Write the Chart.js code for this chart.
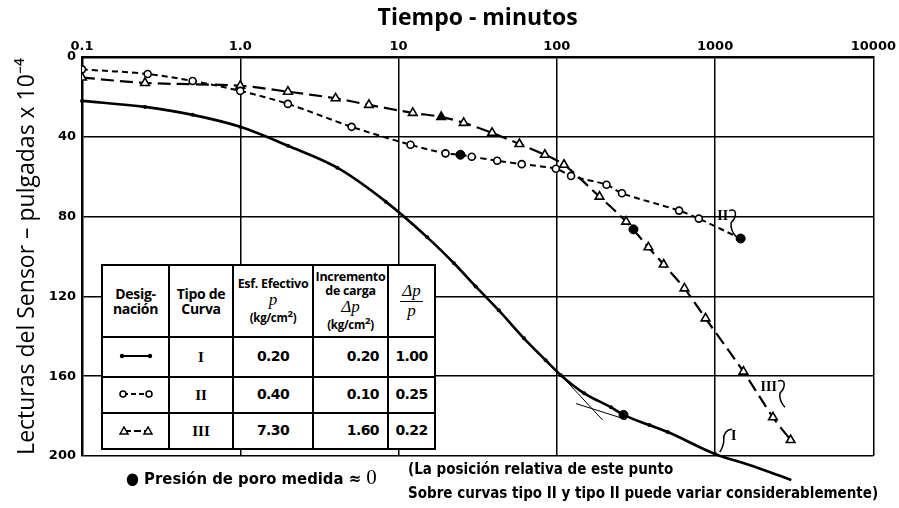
<!DOCTYPE html>
<html lang="es">
<head>
<meta charset="utf-8">
<title>Lecturas del sensor vs tiempo</title>
<script src="https://cdn.jsdelivr.net/npm/chart.js@4.4.0/dist/chart.umd.min.js"></script>
<style>
    body { margin: 0; background: #fff; }
    #wrap { position: relative; width: 899px; height: 508px; overflow: hidden; }
    #grafico { position: absolute; left: 0; top: 0; }
    #tabla {
        position: absolute; left: 101px; top: 264px; width: 333px; height: 185px;
        border-collapse: collapse; background: #fff; table-layout: fixed;
        font-family: "Open Sans", sans-serif; color: #000;
    }
    #tabla td { border: 2px solid #000; text-align: center; padding: 0; line-height: 1.1; }
    #tabla .cab td { font-weight: bold; font-size: 14px; height: 70px; letter-spacing: -0.3px; }
    #tabla .cab td.chico { font-size: 12.5px; }
    #tabla .cab small { font-size: 11.5px; }
    #tabla .mat { font-family: "Liberation Serif", serif; font-style: italic; font-weight: normal; font-size: 17px; letter-spacing: 0; }
    #tabla .fila td { font-family: "DejaVu Sans", sans-serif; font-weight: bold; font-size: 14px; letter-spacing: -0.6px; }
    #tabla .fila td.rom { font-family: "Liberation Serif", serif; font-size: 15px; letter-spacing: 0; }
    #tabla .frac { display: inline-block; }
    #tabla .frac span { display: block; }
    #tabla .frac .num { border-bottom: 1.5px solid #000; padding: 0 2px; }
    .nota { position: absolute; font-family: "Liberation Sans Narrow", "DejaVu Sans Condensed", sans-serif; font-stretch: condensed; font-weight: bold; font-size: 15px; color: #000; white-space: nowrap; }
    .cero { font-family: "Liberation Serif", serif; font-weight: normal; font-size: 21px; }
</style>
</head>
<body>
<div id="wrap">
    <canvas id="grafico" width="899" height="508"></canvas>
    <table id="tabla">
        <colgroup><col style="width:67px"><col style="width:64px"><col style="width:80px"><col style="width:75px"><col style="width:47px"></colgroup>
        <tr class="cab">
            <td>Desig-<br>nación</td>
            <td>Tipo de<br>Curva</td>
            <td class="chico">Esf. Efectivo<br><span class="mat">p</span><br><small>(kg/cm<sup>2</sup>)</small></td>
            <td class="chico">Incremento<br>de carga<br><span class="mat">Δp</span><br><small>(kg/cm<sup>2</sup>)</small></td>
            <td><span class="frac mat"><span class="num">Δp</span><span>p</span></span></td>
        </tr>
        <tr class="fila" style="height:40px">
            <td><svg width="34" height="10"><line x1="3" y1="5" x2="31" y2="5" stroke="#000" stroke-width="2"/><circle cx="3" cy="5" r="2.2"/><circle cx="31" cy="5" r="2.2"/></svg></td>
            <td class="rom">I</td><td>0.20</td><td style="text-align:right;padding-right:8px">0.20</td><td>1.00</td>
        </tr>
        <tr class="fila" style="height:36px">
            <td><svg width="34" height="10"><line x1="4" y1="5" x2="30" y2="5" stroke="#000" stroke-width="2" stroke-dasharray="5 3"/><circle cx="4" cy="5" r="3" fill="#fff" stroke="#000" stroke-width="1.6"/><circle cx="30" cy="5" r="3" fill="#fff" stroke="#000" stroke-width="1.6"/></svg></td>
            <td class="rom">II</td><td>0.40</td><td style="text-align:right;padding-right:8px">0.10</td><td>0.25</td>
        </tr>
        <tr class="fila" style="height:36px">
            <td><svg width="34" height="10"><line x1="5" y1="6" x2="29" y2="6" stroke="#000" stroke-width="2" stroke-dasharray="7 3"/><polygon points="1,9 5,2 9,9" fill="#fff" stroke="#000" stroke-width="1.5"/><polygon points="25,9 29,2 33,9" fill="#fff" stroke="#000" stroke-width="1.5"/></svg></td>
            <td class="rom">III</td><td>7.30</td><td style="text-align:right;padding-right:8px">1.60</td><td>0.22</td>
        </tr>
    </table>
    <div class="nota" style="left:126px;top:465px;font-size:16.5px">● Presión de poro medida ≈ <span class="cero">0</span></div>
    <div class="nota" style="left:408px;top:460px">(La posición relativa de este punto</div>
    <div class="nota" style="left:408px;top:484px">Sobre curvas tipo II y tipo II puede variar considerablemente)</div>
</div>
<script>
// Ejes
const tiempoTicks = [0.1, 1, 10, 100, 1000, 10000];
const tiempoLabels = ['0.1', '1.0', '10', '100', '1000', '10000'];
const lecturaTicks = [0, 40, 80, 120, 160, 200];

// Curva I (línea continua)
const curvaI_x = [0.1, 0.25, 0.5, 1.0, 2.0, 4.1, 8.3, 15.2, 22.4, 30.7, 43, 62, 85, 106, 149, 220, 264, 384, 502, 1000, 1610, 3030];
const curvaI_y = [22, 25, 29, 35, 44.5, 55.5, 72.5, 90.4, 103.4, 115, 127, 141, 152, 159.5, 168.6, 175.6, 179.4, 184.5, 188, 199, 204.3, 212];

// Curva II (círculos)
const curvaII_x = [0.1, 0.26, 0.5, 1.0, 2.0, 5.05, 11.9, 19.8, 24.6, 29, 42, 60, 98.6, 123, 206, 258, 592, 789, 1450];
const curvaII_y = [6.2, 8.5, 12, 17, 23.5, 35, 44, 48.3, 49, 50, 52, 53.7, 56, 59.6, 64, 68.3, 77, 81, 91];

// Curva III (triángulos)
const curvaIII_x = [0.1, 0.25, 1.0, 2.0, 4.0, 6.5, 12.3, 18.6, 25.8, 39, 58, 84, 111, 186, 274, 379, 473, 640, 870, 1510, 2320, 3000];
const curvaIII_y = [10.3, 13, 14.4, 17.4, 20.7, 24, 28, 30, 33, 38, 43.6, 49, 54, 70, 82.5, 95.4, 104, 116, 131, 157.7, 180.6, 192];
const curvaIII_llenos = [18.6];

// Presión de poro medida ≈ 0 (puntos negros)
const poro_x = [24.6, 305, 264, 1450];
const poro_y = [49, 86.4, 179.4, 91];

// Tangentes en la curva I
const tangente1_x = [106, 195];
const tangente1_y = [159.5, 182];
const tangente2_x = [132, 274];
const tangente2_y = [173.7, 181.7];

// Etiquetas de curvas
const etiquetasCurvas = [
    { texto: 'I', x: 1312, y: 190 },
    { texto: 'II', x: 1117, y: 80 },
    { texto: 'III', x: 2183, y: 165.5 }
];

const pares = (xs, ys) => xs.map((x, i) => ({ x: x, y: ys[i] }));

const etiquetasPlugin = {
    id: 'etiquetasCurvas',
    afterDatasetsDraw(chart) {
        const ctx = chart.ctx;
        const sx = chart.scales.x, sy = chart.scales.y;
        ctx.save();
        ctx.fillStyle = '#000';
        ctx.strokeStyle = '#000';
        ctx.lineWidth = 1.5;
        ctx.font = 'bold 14px "Liberation Serif", serif';
        ctx.textAlign = 'center';
        ctx.textBaseline = 'middle';
        etiquetasCurvas.forEach(e => {
            const px = sx.getPixelForValue(e.x);
            const py = sy.getPixelForValue(e.y);
            ctx.fillText(e.texto, px, py);
            const w = ctx.measureText(e.texto).width / 2;
            ctx.beginPath();
            if (e.texto === 'I') {
                ctx.moveTo(px - 2, py - 7);
                ctx.quadraticCurveTo(px - 11, py - 5, px - 10, py + 4);
                ctx.quadraticCurveTo(px - 10, py + 10, px - 14, py + 16);
            } else {
                ctx.moveTo(px + w + 1, py - 6);
                ctx.bezierCurveTo(px + w + 9, py - 9, px + w + 9, py, px + w + 3, py + 6);
                ctx.quadraticCurveTo(px + w + 2, py + 14, px + w + 8, py + 20);
            }
            ctx.stroke();
        });
        ctx.restore();
    }
};

new Chart(document.getElementById('grafico'), {
    type: 'line',
    data: {
        datasets: [
            {
                label: 'Presión de poro medida ≈ 0',
                data: pares(poro_x, poro_y),
                showLine: false,
                pointRadius: 4.5,
                pointBackgroundColor: '#000',
                pointBorderColor: '#000',
                clip: false
            },
            {
                label: 'I',
                data: pares(curvaI_x, curvaI_y),
                borderColor: '#000',
                borderWidth: 2.6,
                pointRadius: 2,
                pointBackgroundColor: '#000',
                pointBorderWidth: 0,
                cubicInterpolationMode: 'monotone',
                clip: false
            },
            {
                label: 'II',
                data: pares(curvaII_x, curvaII_y),
                borderColor: '#000',
                borderWidth: 2,
                borderDash: [6, 4],
                pointRadius: 3.5,
                pointBackgroundColor: '#fff',
                pointBorderColor: '#000',
                pointBorderWidth: 1.6,
                tension: 0.3
            },
            {
                label: 'III',
                data: pares(curvaIII_x, curvaIII_y),
                borderColor: '#000',
                borderWidth: 2.2,
                borderDash: [13, 6],
                pointStyle: 'triangle',
                pointRadius: 5,
                pointBackgroundColor: curvaIII_x.map(x => curvaIII_llenos.includes(x) ? '#000' : '#fff'),
                pointBorderColor: '#000',
                pointBorderWidth: 1.6,
                tension: 0.3
            },
            {
                label: 'tangente 1',
                data: pares(tangente1_x, tangente1_y),
                borderColor: '#000',
                borderWidth: 1,
                pointRadius: 0
            },
            {
                label: 'tangente 2',
                data: pares(tangente2_x, tangente2_y),
                borderColor: '#000',
                borderWidth: 1,
                pointRadius: 0
            }
        ]
    },
    options: {
        responsive: false,
        animation: false,
        layout: { padding: { top: 0, right: 25, bottom: 52, left: 0 } },
        plugins: {
            legend: { display: false },
            tooltip: { enabled: false }
        },
        scales: {
            x: {
                type: 'logarithmic',
                position: 'top',
                min: 0.1,
                max: 10000,
                afterBuildTicks: scale => { scale.ticks = tiempoTicks.map(v => ({ value: v })); },
                afterFit: scale => { scale.height = 57; },
                ticks: {
                    autoSkip: false,
                    maxRotation: 0,
                    padding: 3,
                    color: '#000',
                    font: { family: 'DejaVu Sans', size: 13, weight: 'bold' },
                    callback: (v, i) => tiempoLabels[i]
                },
                grid: { color: '#000', lineWidth: 1.5, drawTicks: false },
                border: { color: '#000', width: 2.5 },
                title: {
                    display: true,
                    text: 'Tiempo - minutos',
                    color: '#000',
                    font: { family: 'Open Sans', size: 23, weight: 'bold', lineHeight: 1.1 },
                    padding: { top: 6, bottom: 0 }
                }
            },
            y: {
                reverse: true,
                min: 0,
                max: 200,
                afterBuildTicks: scale => { scale.ticks = lecturaTicks.map(v => ({ value: v })); },
                afterFit: scale => { scale.width = 82; },
                ticks: {
                    padding: 6,
                    color: '#000',
                    font: { family: 'DejaVu Sans', size: 13, weight: 'bold' }
                },
                grid: { color: '#000', lineWidth: 1.5, drawTicks: false },
                border: { color: '#000', width: 2.5 },
                title: {
                    display: true,
                    text: 'Lecturas del Sensor – pulgadas x 10⁻⁴',
                    color: '#000',
                    font: { family: 'Open Sans', size: 23, lineHeight: 1.1 },
                    padding: { top: 15, bottom: 0 }
                }
            }
        }
    },
    plugins: [etiquetasPlugin]
});
</script>
</body>
</html>
